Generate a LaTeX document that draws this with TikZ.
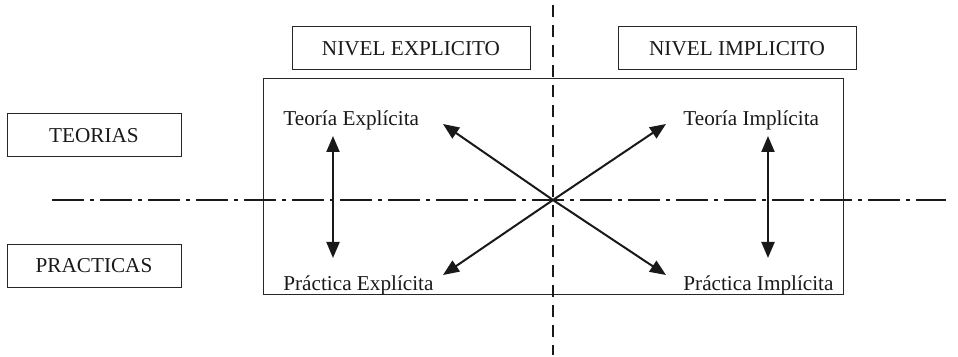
\documentclass[tikz,border=0pt]{standalone}
\usepackage{fontspec}
\setmainfont{Liberation Serif}
\usetikzlibrary{arrows.meta}
\begin{document}
\begin{tikzpicture}[x=0.5pt,y=-0.5pt,
  lbl/.style={font=\fontsize{10.6}{12}\selectfont, inner sep=0pt, text=black!90},
  labelbox/.style={draw=black!85, line width=0.5pt, minimum height=21.5pt, font=\fontsize{10.6}{12}\selectfont, inner sep=0pt, text=black!90},
  dbl/.style={draw=black!90, line width=1pt, {Triangle[length=8pt,width=6.5pt]}-{Triangle[length=8pt,width=6.5pt]}},
  sgl/.style={draw=black!90, line width=1pt, -{Triangle[length=8pt,width=6.5pt]}},
  vdash/.style={draw=black!90, line width=1.1pt, dash pattern=on 6pt off 4pt},
  hdashdot/.style={draw=black!90, line width=1.1pt, dash pattern=on 16pt off 3pt on 2pt off 3pt}]
\path[use as bounding box] (0,0) rectangle (958,357);
% frame
\draw[draw=black!85, line width=0.5pt] (263,79) rectangle (843,295);
% header boxes
\node[labelbox, minimum width=119pt] (nexp) at (411,48.5) {NIVEL EXPLICITO};
\node[labelbox, minimum width=119pt] (nimp) at (737,48.5) {NIVEL IMPLICITO};
\node[labelbox, minimum width=87pt] (teo) at (94,135.5) {TEORIAS};
\node[labelbox, minimum width=87pt] (pra) at (94,266) {PRACTICAS};
% guide lines
\coordinate (vtop) at (553,5);
\coordinate (vbot) at (553,355);
\coordinate (hl) at (52,200);
\coordinate (hr) at (946,200);
\coordinate (c) at (553,200);
\draw[vdash] (vtop) -- (vbot);
\draw[hdashdot] (hl) -- (hr);
% texts
\node[lbl, anchor=west] (te) at (283,120) {Teoría Explícita};
\node[lbl, anchor=west] (pe) at (283,285) {Práctica Explícita};
\node[lbl, anchor=west] (ti) at (683,120) {Teoría Implícita};
\node[lbl, anchor=west] (pi) at (683,285) {Práctica Implícita};
% arrow end points
\coordinate (l1) at (333,136);
\coordinate (l2) at (333,258);
\coordinate (r1) at (768,136);
\coordinate (r2) at (768,258);
\coordinate (ul) at (443,124);
\coordinate (ur) at (666,124);
\coordinate (dl) at (443,275);
\coordinate (dr) at (666,275);
\draw[dbl] (l1) -- (l2);
\draw[dbl] (r1) -- (r2);
\draw[sgl] (c) -- (ul);
\draw[sgl] (c) -- (ur);
\draw[sgl] (c) -- (dl);
\draw[sgl] (c) -- (dr);
\end{tikzpicture}
\end{document}
